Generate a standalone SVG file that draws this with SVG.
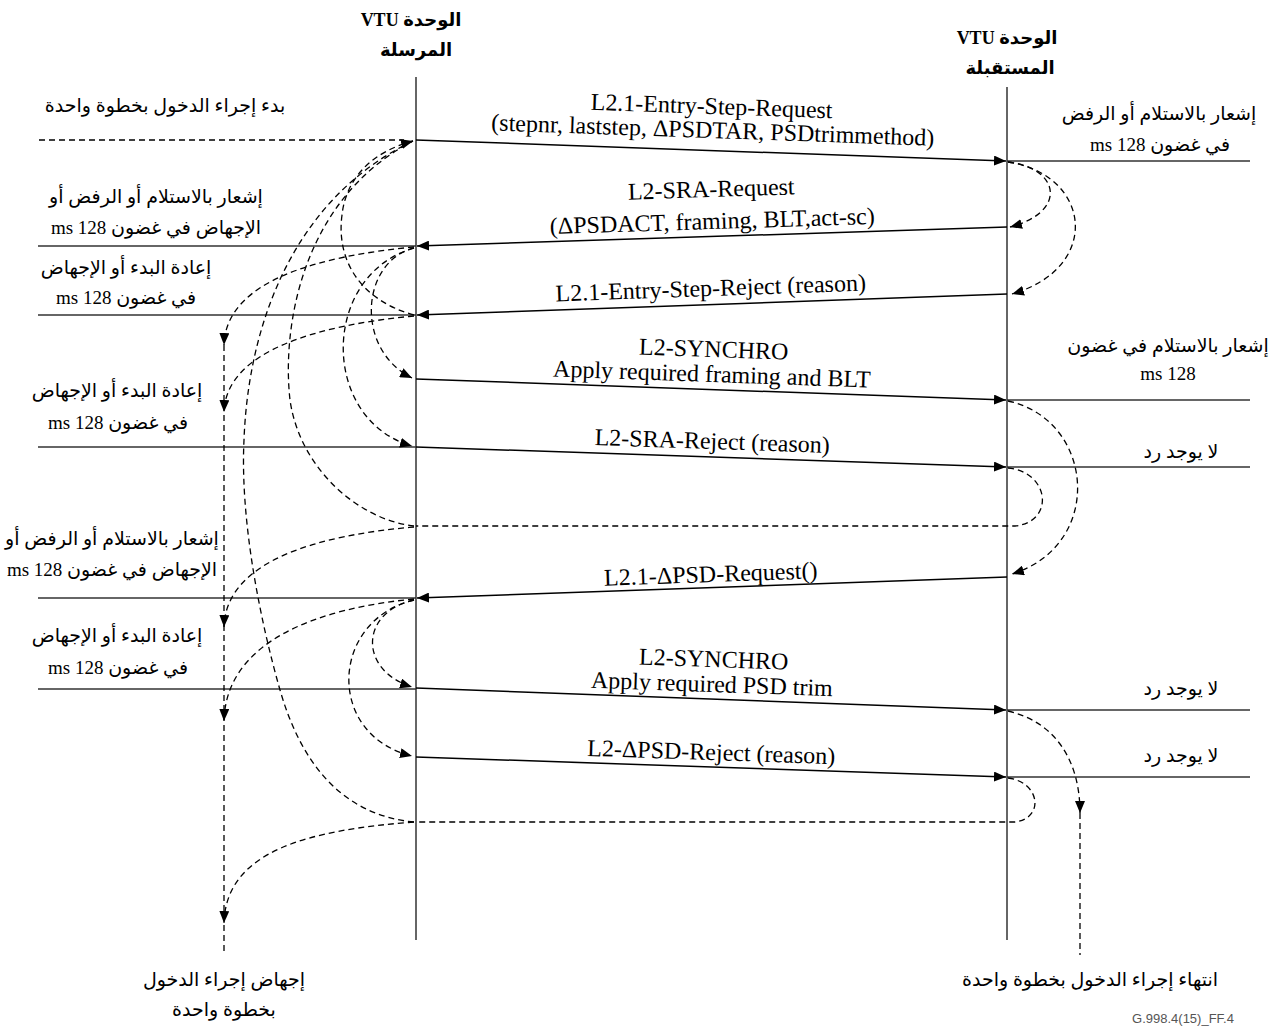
<svg xmlns="http://www.w3.org/2000/svg" width="1273" height="1027" viewBox="0 0 1273 1027">
<style>
  .msg { font-family: "Liberation Serif", "Times New Roman", serif; font-size: 24px; fill: #000; text-anchor: middle; }
  .ar { font-family: "Liberation Serif", "DejaVu Sans", serif; font-size: 19px; fill: #000; text-anchor: middle; direction: rtl; unicode-bidi: embed; }
  .hd { font-weight: bold; font-size: 18px; }
  .fig { font-family: "Liberation Sans", Arial, sans-serif; font-size: 13px; fill: #555; text-anchor: middle; }
  .life { stroke: #333; stroke-width: 1.5; fill: none; }
  .hline { stroke: #333; stroke-width: 1.5; fill: none; }
  .mline { stroke: #000; stroke-width: 1.5; fill: none; }
  .dash { stroke: #000; stroke-width: 1.3; fill: none; stroke-dasharray: 6 4; }
</style>
<defs>
  <marker id="ah" viewBox="0 0 12 10" refX="12" refY="5" markerWidth="12" markerHeight="10" markerUnits="userSpaceOnUse" orient="auto">
    <path d="M0,0 L12,5 L0,10 z" fill="#000"/>
  </marker>
</defs>
<rect width="1273" height="1027" fill="#fff"/>

<g id="vtu-sender">
  <text class="ar hd" x="411" y="26">الوحدة VTU</text>
  <text class="ar hd" x="416" y="56">المرسلة</text>
  <line class="life" x1="416" y1="77" x2="416" y2="940"/>
</g>
<g id="vtu-receiver">
  <text class="ar hd" x="1007" y="44">الوحدة VTU</text>
  <text class="ar hd" x="1010" y="74">المستقبلة</text>
  <line class="life" x1="1007" y1="87" x2="1007" y2="940"/>
</g>

<g id="left-labels">
  <g id="lbl-start"><text class="ar" x="165" y="112">بدء إجراء الدخول بخطوة واحدة</text></g>
  <g id="lbl-ack1"><text class="ar" x="156" y="203">إشعار بالاستلام أو الرفض أو</text><text class="ar" x="156" y="234">الإجهاض في غضون 128 ms</text></g>
  <g id="lbl-restart1"><text class="ar" x="126" y="274">إعادة البدء أو الإجهاض</text><text class="ar" x="126" y="304">في غضون 128 ms</text></g>
  <g id="lbl-restart2"><text class="ar" x="117" y="397">إعادة البدء أو الإجهاض</text><text class="ar" x="118" y="429">في غضون 128 ms</text></g>
  <g id="lbl-ack2"><text class="ar" x="112" y="545">إشعار بالاستلام أو الرفض أو</text><text class="ar" x="112" y="576">الإجهاض في غضون 128 ms</text></g>
  <g id="lbl-restart3"><text class="ar" x="117" y="642">إعادة البدء أو الإجهاض</text><text class="ar" x="118" y="674">في غضون 128 ms</text></g>
  <g id="lbl-abort"><text class="ar" x="224" y="986">إجهاض إجراء الدخول</text><text class="ar" x="224" y="1016">بخطوة واحدة</text></g>
</g>

<g id="right-labels">
  <g id="lbl-r-ack1"><text class="ar" x="1159" y="120">إشعار بالاستلام أو الرفض</text><text class="ar" x="1160" y="151">في غضون 128 ms</text></g>
  <g id="lbl-r-ack2"><text class="ar" x="1168" y="352">إشعار بالاستلام في غضون</text><text class="ar" x="1168" y="380">128 ms</text></g>
  <g id="lbl-r-none1"><text class="ar" x="1181" y="458">لا يوجد رد</text></g>
  <g id="lbl-r-none2"><text class="ar" x="1181" y="695">لا يوجد رد</text></g>
  <g id="lbl-r-none3"><text class="ar" x="1181" y="762">لا يوجد رد</text></g>
  <g id="lbl-end"><text class="ar" x="1090" y="986">انتهاء إجراء الدخول بخطوة واحدة</text></g>
</g>

<g id="message-labels">
  <g id="m1" transform="rotate(2 712 125)"><text class="msg" x="711" y="114">L2.1-Entry-Step-Request</text><text class="msg" x="713" y="138">(stepnr, laststep, ΔPSDTAR, PSDtrimmethod)</text></g>
  <g id="m2" transform="rotate(-1.8 712 213)"><text class="msg" x="712" y="197">L2-SRA-Request</text><text class="msg" x="712" y="229">(ΔPSDACT, framing, BLT,act-sc)</text></g>
  <g id="m3" transform="rotate(-2 711 296)"><text class="msg" x="711" y="296">L2.1-Entry-Step-Reject (reason)</text></g>
  <g id="m4" transform="rotate(2 712 370)"><text class="msg" x="713" y="357">L2-SYNCHRO</text><text class="msg" x="712" y="382">Apply required framing and BLT</text></g>
  <g id="m5" transform="rotate(1.9 712 449)"><text class="msg" x="712" y="449">L2-SRA-Reject (reason)</text></g>
  <g id="m6" transform="rotate(-2 711 582)"><text class="msg" x="711" y="582">L2.1-ΔPSD-Request()</text></g>
  <g id="m7" transform="rotate(2 712 680)"><text class="msg" x="713" y="667">L2-SYNCHRO</text><text class="msg" x="712" y="692">Apply required PSD trim</text></g>
  <g id="m8" transform="rotate(1.9 711 760)"><text class="msg" x="711" y="760">L2-ΔPSD-Reject (reason)</text></g>
</g>

<g id="connectors">
  <!-- messages -->
  <line class="mline" x1="416" y1="140" x2="1006" y2="161" marker-end="url(#ah)"/>
  <line class="mline" x1="1007" y1="227" x2="417" y2="246" marker-end="url(#ah)"/>
  <line class="mline" x1="1007" y1="294" x2="417" y2="315" marker-end="url(#ah)"/>
  <line class="mline" x1="416" y1="379" x2="1006" y2="400" marker-end="url(#ah)"/>
  <line class="mline" x1="416" y1="447" x2="1006" y2="467" marker-end="url(#ah)"/>
  <line class="mline" x1="1007" y1="577" x2="417" y2="598" marker-end="url(#ah)"/>
  <line class="mline" x1="416" y1="688" x2="1006" y2="710" marker-end="url(#ah)"/>
  <line class="mline" x1="416" y1="757" x2="1006" y2="777" marker-end="url(#ah)"/>

  <!-- left horizontal timers -->
  <line class="hline" x1="38" y1="246" x2="416" y2="246"/>
  <line class="hline" x1="38" y1="315" x2="416" y2="315"/>
  <line class="hline" x1="38" y1="447" x2="416" y2="447"/>
  <line class="hline" x1="38" y1="598" x2="416" y2="598"/>
  <line class="hline" x1="38" y1="689" x2="416" y2="689"/>
  <!-- right horizontal timers -->
  <line class="hline" x1="1007" y1="161" x2="1250" y2="161"/>
  <line class="hline" x1="1007" y1="400" x2="1250" y2="400"/>
  <line class="hline" x1="1007" y1="467" x2="1250" y2="467"/>
  <line class="hline" x1="1007" y1="710" x2="1250" y2="710"/>
  <line class="hline" x1="1007" y1="777" x2="1250" y2="777"/>

  <!-- start -->
  <line class="dash" x1="39" y1="140" x2="404" y2="140"/>

  <!-- restart curves to top -->
  <path class="dash" d="M414,315 C360,300 336,260 342,215 C346,178 372,152 413,141" marker-end="url(#ah)"/>
  <path class="dash" d="M414,526 C360,520 300,470 290,400 C282,330 300,200 413,141"/>
  <path class="dash" d="M414,822 C340,815 300,760 280,690 C260,620 240,520 244,440 C248,330 290,200 413,141"/>

  <!-- abort curves -->
  <path class="dash" d="M414,247 C320,256 226,280 224,345" marker-end="url(#ah)"/>
  <path class="dash" d="M414,316 C320,325 226,350 224,412" marker-end="url(#ah)"/>
  <path class="dash" d="M414,527 C320,535 226,560 224,627" marker-end="url(#ah)"/>
  <path class="dash" d="M414,599 C320,608 226,640 224,721" marker-end="url(#ah)"/>
  <path class="dash" d="M414,822 C310,830 226,850 224,923" marker-end="url(#ah)"/>
  <line class="dash" x1="224" y1="345" x2="224" y2="955"/>

  <!-- left side response curves -->
  <path class="dash" d="M414,248 C360,262 355,350 412,378" marker-end="url(#ah)"/>
  <path class="dash" d="M414,248 C320,275 320,420 412,446" marker-end="url(#ah)"/>
  <path class="dash" d="M414,600 C360,612 358,670 412,687" marker-end="url(#ah)"/>
  <path class="dash" d="M414,600 C330,620 325,735 412,756" marker-end="url(#ah)"/>

  <!-- right side curves -->
  <path class="dash" d="M1008,162 C1060,168 1068,212 1010,227" marker-end="url(#ah)"/>
  <path class="dash" d="M1008,162 C1092,175 1102,268 1012,294" marker-end="url(#ah)"/>
  <path class="dash" d="M1008,401 C1095,420 1105,545 1012,574" marker-end="url(#ah)"/>
  <path class="dash" d="M1008,468 C1050,472 1055,522 1015,526 L416,526"/>
  <path class="dash" d="M1008,778 C1040,782 1045,818 1015,822 L416,822"/>
  <path class="dash" d="M1008,711 C1055,722 1080,760 1080,813" marker-end="url(#ah)"/>
  <line class="dash" x1="1080" y1="813" x2="1080" y2="955"/>
</g>

<text class="fig" x="1183" y="1023">G.998.4(15)_FF.4</text>
</svg>
